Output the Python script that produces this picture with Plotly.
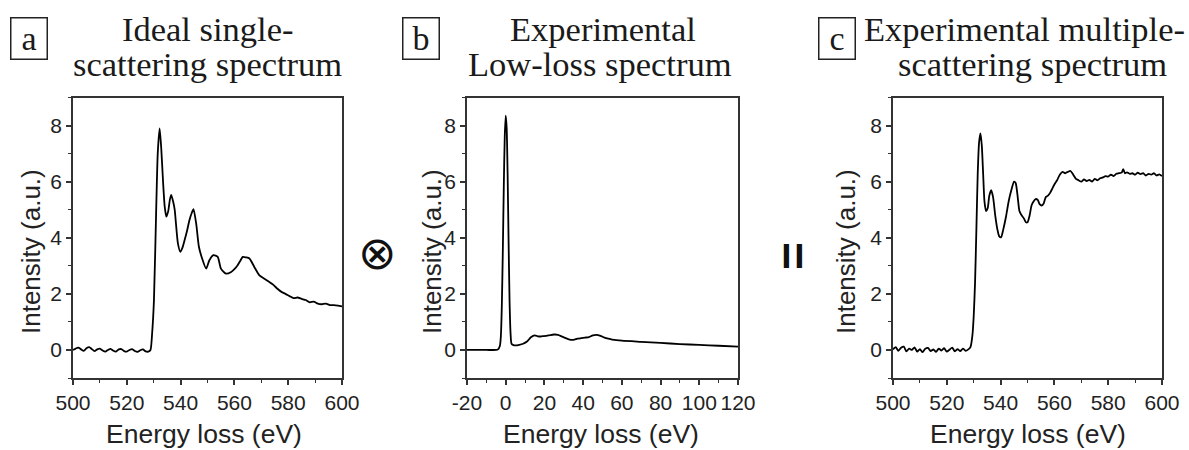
import plotly.graph_objects as go

# ---------------- data ----------------
# (a) ideal single-scattering spectrum
a_energy = [500, 501, 502, 503, 504, 505, 506, 507, 508, 509, 510, 511, 512, 513, 514, 515,
            516, 517, 518, 519, 520, 521, 522, 523, 524, 525, 526, 527, 528, 528.8,
            529.4, 530.1, 531, 531.5, 532.2, 532.8, 533.5, 534.1, 534.7, 535.4, 536.0, 536.5,
            537.2, 537.8, 539.0, 539.9, 540.7, 541.5, 542.4, 543.3, 544.2, 544.8, 545.8, 546.8,
            548.0, 549.5, 550.7, 552.2, 553.8, 555.0, 556.9, 558.8, 560.0, 561.2, 562.2, 563.1,
            564.3, 565.6, 567.4, 569.3, 571.0, 573.0, 574.5, 576.0, 577.5, 579.0, 580.5, 582.0,
            583.5, 585.0, 586.5, 588.0, 589.5, 591.0, 592.5, 594.0, 595.5, 597.0, 598.5, 600]
a_intensity = [0.0, 0.05, 0.08, 0.02, -0.03, 0.06, 0.1, 0.03, -0.04, 0.02, 0.05, -0.02, -0.06,
               0.0, 0.04, -0.03, -0.06, 0.02, 0.03, -0.04, -0.06, 0.0, 0.03, -0.04, -0.07, -0.01,
               0.02, -0.05, -0.06, 0.0,
               0.57, 1.8, 5.3, 7.0, 7.9, 7.2, 5.95, 5.1, 4.75, 4.95, 5.35, 5.53,
               5.3, 5.0, 3.8, 3.5, 3.65, 3.92, 4.25, 4.63, 4.9, 5.02, 4.5, 3.68,
               3.26, 2.9, 3.2, 3.38, 3.32, 2.9, 2.72, 2.78, 2.88, 3.02, 3.18, 3.32,
               3.3, 3.26, 2.96, 2.66, 2.55, 2.42, 2.32, 2.18, 2.07, 2.0, 1.92, 1.85,
               1.87, 1.82, 1.78, 1.7, 1.72, 1.65, 1.63, 1.65, 1.6, 1.6, 1.58, 1.55]

# (b) experimental low-loss spectrum
b_energy = [-20, -10, -5, -4, -3, -2.5, -2, -1.5, -1, -0.5, 0, 0.5, 1, 1.5, 2, 2.5, 3, 4, 5,
            7, 9, 11, 13, 15, 17, 19, 21, 23, 25, 27, 29, 31, 33, 35, 37, 39, 41, 43, 45, 47,
            49, 51, 53, 55, 60, 70, 80, 90, 100, 110, 120]
b_intensity = [0.0, 0.0, 0.0, 0.02, 0.15, 0.5, 1.6, 3.5, 5.8, 7.6, 8.35, 7.9, 6.2, 3.8, 1.7,
               0.6, 0.22, 0.17, 0.16, 0.18, 0.22, 0.3, 0.45, 0.52, 0.48, 0.49, 0.5, 0.53, 0.55,
               0.54, 0.48, 0.42, 0.37, 0.36, 0.4, 0.42, 0.44, 0.46, 0.52, 0.54, 0.5, 0.44, 0.4,
               0.37, 0.33, 0.29, 0.25, 0.21, 0.18, 0.15, 0.12]

# (c) experimental multiple-scattering spectrum
c_energy = [500, 501, 502, 503, 504, 505, 506, 507, 508, 509, 510, 511, 512, 513, 514, 515,
            516, 517, 518, 519, 520, 521, 522, 523, 524, 525, 526, 527, 528, 528.8,
            529.5, 530, 530.5, 531, 531.5, 532, 532.5, 533, 533.5, 534, 534.6, 535.2, 535.8,
            536.5, 537.2, 538, 538.8, 539.5, 540.2, 541, 542, 543, 544, 545, 545.6, 546.3, 547,
            547.8, 548.6, 549.4, 550, 550.8, 551.5, 552.3, 553, 553.8, 554.5, 555.3, 556,
            556.8, 557.6, 558.4, 559.2, 560, 561, 562, 563, 564, 565, 566, 567, 568, 569, 570,
            571, 572, 573, 574, 575, 576, 577, 578, 579, 580, 581, 582, 583, 584, 585, 585.6,
            586.2, 587, 588, 589, 590, 591, 592, 593, 594, 595, 596, 597, 598, 599, 600]
c_intensity = [0.02, 0.1, -0.03, 0.08, 0.12, -0.05, 0.05, 0.0, 0.09, -0.06, 0.03, -0.08, 0.04,
               0.07, -0.04, 0.02, -0.07, 0.05, -0.02, 0.06, -0.06, 0.01, 0.08, -0.05, 0.03,
               -0.04, 0.05, -0.03, 0.02, 0.1,
               0.5, 1.2, 2.4, 4.3, 6.3, 7.4, 7.72, 7.3, 6.3, 5.3, 4.95, 5.05, 5.5,
               5.7, 5.45, 4.8, 4.3, 4.05, 4.02, 4.3, 4.75, 5.3, 5.7, 6.0, 5.95, 5.5, 4.95,
               4.8, 4.7, 4.55, 4.55, 4.8, 5.15, 5.3, 5.38, 5.35, 5.2, 5.15, 5.22,
               5.45, 5.5, 5.6, 5.75, 5.9, 6.05, 6.25, 6.35, 6.3, 6.35, 6.38, 6.25, 6.1, 6.05, 6.0,
               6.08, 6.02, 6.06, 6.0, 6.1, 6.05, 6.12, 6.15, 6.2, 6.18, 6.25, 6.2, 6.28, 6.3, 6.32,
               6.45, 6.3, 6.33, 6.28, 6.3, 6.25, 6.32, 6.27, 6.3, 6.22, 6.28, 6.25, 6.3, 6.22,
               6.26, 6.2]

ab_ticks = [500, 520, 540, 560, 580, 600]
b_ticks = [-20, 0, 20, 40, 60, 80, 100, 120]
b_ticktext = ["-20", "0", "20", "40", "60", "80", "100", "120"]
ab_ticktext = ["500", "520", "540", "560", "580", "600"]
y_ticks = [0, 2, 4, 6, 8]

panel_letters = ["a", "b", "c"]
title_line1 = ["Ideal single-", "Experimental", "Experimental multiple-"]
title_line2 = ["scattering spectrum", "Low-loss spectrum", "scattering spectrum"]
x_title = "Energy loss (eV)"
y_title = "Intensity (a.u.)"

# ---------------- layout ----------------
W, H = 1189, 450
def px(x):
    return x / W
def py(y):
    return 1 - y / H

x_domains = [[px(73), px(342)], [px(467), px(738)], [px(893), px(1162)]]
y_domain = [py(378), py(97.5)]

fig = go.Figure()
series = [(a_energy, a_intensity), (b_energy, b_intensity), (c_energy, c_intensity)]
for i, (xs, ys) in enumerate(series):
    suffix = "" if i == 0 else str(i + 1)
    fig.add_trace(go.Scatter(x=xs, y=ys, mode="lines",
                             line=dict(color="black", width=1.8, shape="spline", smoothing=0.6),
                             xaxis="x" + suffix, yaxis="y" + suffix, showlegend=False,
                             hoverinfo="skip"))

axis_common = dict(showgrid=False, zeroline=False, showline=True, mirror=True,
                   automargin=False,
                   linecolor="#333333", linewidth=1.5, ticks="outside", ticklen=5,
                   tickwidth=1.5, tickcolor="#333333",
                   tickfont=dict(family="Liberation Sans, Arial", size=21, color="#222222"))

x_ranges = [[500, 600], [-20, 120], [500, 600]]
x_tickvals = [ab_ticks, b_ticks, ab_ticks]
x_ticktexts = [ab_ticktext, b_ticktext, ab_ticktext]
layout = {}
for i in range(3):
    suffix = "" if i == 0 else str(i + 1)
    layout["xaxis" + suffix] = dict(axis_common, domain=x_domains[i], range=x_ranges[i],
                                    tickvals=x_tickvals[i], ticktext=x_ticktexts[i],
                                    anchor="y" + suffix,
                                    minor=dict(ticks="outside", ticklen=3, dtick=10,
                                               tickcolor="#333333", tickwidth=1.2))
    layout["yaxis" + suffix] = dict(axis_common, domain=y_domain, range=[-1, 9],
                                    tickvals=y_ticks, anchor="x" + suffix,
                                    minor=dict(ticks="outside", ticklen=3, dtick=1,
                                               tickcolor="#333333", tickwidth=1.2))

fig.update_layout(width=W, height=H, margin=dict(l=0, r=0, t=0, b=0, autoexpand=False),
                  template="none",
                  paper_bgcolor="white", plot_bgcolor="white", **layout)

serif = "Liberation Serif, Times New Roman, serif"
sans = "Liberation Sans, Arial, sans-serif"
ann = []
box_centers = [29, 420.5, 836.5]
line1_x = [207, 603, 1024]
line2_x = [207, 600, 1032]
ytitle_x = [31, 432, 846]
xtitle_x = [204, 601, 1028]
for i in range(3):
    ann.append(dict(x=px(box_centers[i]), y=py(38.5), xref="paper", yref="paper",
                    text=panel_letters[i], showarrow=False, xanchor="center", yanchor="middle",
                    font=dict(family=serif, size=34, color="#1a1a1a"),
                    bordercolor="#222222", borderwidth=1.5, borderpad=0, width=35, height=40))
    ann.append(dict(x=px(line1_x[i]), y=py(29), xref="paper", yref="paper",
                    text=title_line1[i], showarrow=False, xanchor="center", yanchor="middle",
                    font=dict(family=serif, size=34.5, color="#1a1a1a")))
    ann.append(dict(x=px(line2_x[i]), y=py(64), xref="paper", yref="paper",
                    text=title_line2[i], showarrow=False, xanchor="center", yanchor="middle",
                    font=dict(family=serif, size=34.5, color="#1a1a1a")))
    ann.append(dict(x=px(ytitle_x[i]), y=py(252), xref="paper", yref="paper",
                    text=y_title, showarrow=False, xanchor="center", yanchor="middle",
                    textangle=-90, font=dict(family=sans, size=26, color="#222222")))
    ann.append(dict(x=px(xtitle_x[i]), y=py(434), xref="paper", yref="paper",
                    text=x_title, showarrow=False, xanchor="center", yanchor="middle",
                    font=dict(family=sans, size=26.5, color="#222222")))

ann.append(dict(x=px(377), y=py(253), xref="paper", yref="paper", text="⊗",
                showarrow=False, xanchor="center", yanchor="middle",
                font=dict(family="DejaVu Sans", size=46, color="#111111")))
ann.append(dict(x=px(793), y=py(256), xref="paper", yref="paper", text="<b>=</b>",
                showarrow=False, xanchor="center", yanchor="middle", textangle=90,
                font=dict(family=sans, size=48, color="#111111")))
fig.update_layout(annotations=ann)

fig.write_html("out.html")
